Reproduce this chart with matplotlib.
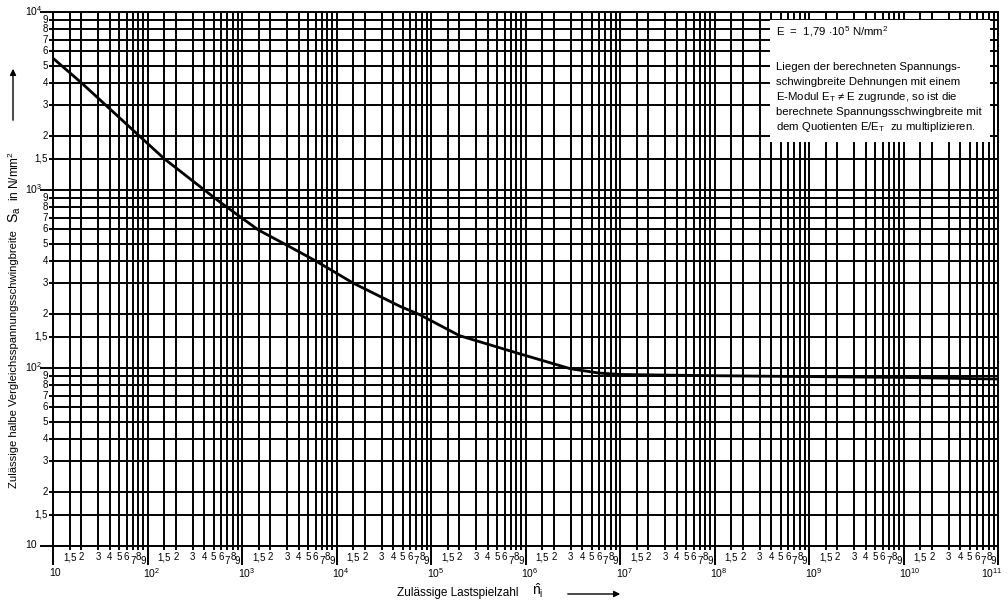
import numpy as np
import matplotlib.pyplot as plt
from matplotlib import font_manager
from matplotlib.ticker import LogLocator, NullFormatter
from matplotlib.patches import Rectangle, FancyArrowPatch

installed = {f.name for f in font_manager.fontManager.ttflist}
narrow = 'Liberation Sans Narrow' in installed
print('narrow font:', narrow)

plt.rcParams['font.family'] = ['Liberation Sans', 'DejaVu Sans']
plt.rcParams['mathtext.fontset'] = 'custom'
plt.rcParams['mathtext.rm'] = 'Liberation Sans'
plt.rcParams['mathtext.it'] = 'Liberation Sans:italic'
plt.rcParams['mathtext.default'] = 'regular'

# design curve
cycles = [10, 20, 50, 83, 150, 400, 585, 1000, 1500, 3000, 6000, 1e4, 1.5e4,
          4.7e4, 7.5e4, 2e5, 8.75e5, 3e6, 6e6, 1e7, 1e8, 1e9, 1e10, 1e11]
stress = [5500, 4000, 2560, 2000, 1500, 1000, 855, 695, 595, 489, 400, 341, 300,
          222, 200, 152, 120, 99, 93.7, 92, 90.5, 89.5, 88.5, 86.7]

minor_subs = [1.5, 2, 3, 4, 5, 6, 7, 8, 9]
minor_labels = ['1,5', '2', '3', '4', '5', '6', '7', '8', '9']
x_decades = list(range(1, 12))
y_decades = list(range(1, 5))

box_title = 'E  =  1,79 $\\cdot$10$^5$ N/mm$^2$'
box_lines = ['Liegen der berechneten Spannungs-',
             'schwingbreite Dehnungen mit einem',
             'E-Modul $E_T$ \u2260 E zugrunde, so ist die',
             'berechnete Spannungsschwingbreite mit',
             'dem Quotienten E/$E_T$  zu multiplizieren.']

if narrow:
    box_font = dict(family=['Liberation Sans Narrow', 'Liberation Sans', 'DejaVu Sans'], fontsize=9.4)
    tick_font = dict(family=['Liberation Sans Narrow', 'Liberation Sans', 'DejaVu Sans'], fontsize=8)
else:
    box_font = dict(fontsize=8.2)
    tick_font = dict(fontsize=7)

W, H = 1008, 607
fig = plt.figure(figsize=(W / 100, H / 100), dpi=100)
ax = fig.add_axes([53 / W, 1 - 546 / H, (998 - 53) / W, (546 - 12) / H])
ax.set_xscale('log')
ax.set_yscale('log')
ax.set_xlim(10, 1e11)
ax.set_ylim(10, 1e4)

for axis in (ax.xaxis, ax.yaxis):
    axis.set_major_locator(LogLocator(base=10, numticks=100))
    axis.set_minor_locator(LogLocator(base=10, subs=minor_subs, numticks=100))
    axis.set_minor_formatter(NullFormatter())

ax.grid(which='both', color='black', lw=1.4)
ax.tick_params(which='both', labelbottom=False, labelleft=False,
               direction='out', color='black', width=1.4)
ax.tick_params(axis='x', which='major', length=14)
ax.tick_params(axis='y', which='major', length=9.5)
ax.tick_params(which='minor', length=3)
for s in ax.spines.values():
    s.set_linewidth(1.4)

ax.plot(cycles, stress, color='black', lw=2, zorder=4)

# x tick labels
for d in x_decades:
    lab = '10' if d == 1 else '10$^{%d}$' % d
    if d == 11:
        ax.annotate(lab, xy=(10 ** d, 0), xycoords=('data', 'axes fraction'),
                    xytext=(3.5, -19.5), textcoords='offset points',
                    ha='right', va='center', fontsize=7.5)
    else:
        ax.annotate(lab, xy=(10 ** d, 0), xycoords=('data', 'axes fraction'),
                    xytext=(-3, -19.5), textcoords='offset points',
                    ha='left', va='center', fontsize=7.5)
        for s, lab in zip(minor_subs, minor_labels):
            dy = -11 if lab in ('7', '9') else -8
            ax.annotate(lab, xy=(s * 10 ** d, 0), xycoords=('data', 'axes fraction'),
                        xytext=(0, dy), textcoords='offset points',
                        ha='center', va='center', **tick_font)

# y tick labels
for d in y_decades:
    lab = '10' if d == 1 else '10$^{%d}$' % d
    ax.annotate(lab, xy=(0, 10 ** d), xycoords=('axes fraction', 'data'),
                xytext=(-20, 1), textcoords='offset points',
                ha='left', va='center', fontsize=7.5)
    if d < 4:
        for s, lab in zip(minor_subs, minor_labels):
            ax.annotate(lab, xy=(0, s * 10 ** d), xycoords=('axes fraction', 'data'),
                        xytext=(-3.6, 0), textcoords='offset points',
                        ha='right', va='center', **tick_font)

# note box
def fx(px):
    return px / W

def fy(py):
    return 1 - py / H

ax.add_patch(Rectangle((fx(770), fy(142)), 220 / W, 122 / H, transform=fig.transFigure,
                       facecolor='white', edgecolor='none', zorder=5, clip_on=False))
fig.text(fx(776), fy(32), box_title, va='center', zorder=6, **box_font)
for i, line in enumerate(box_lines):
    fig.text(fx(776), fy(67 + i * 15), line, va='center', zorder=6, **box_font)

# axis titles
fig.text(fx(14), fy(488), 'Zulässige halbe Vergleichsspannungsschwingbreite',
         rotation=90, ha='center', va='bottom', fontsize=8.1)
fig.text(fx(15), fy(215), '$S_a$', rotation=90, ha='center', va='center', fontsize=10)
fig.text(fx(14), fy(176), 'in N/mm$^2$', rotation=90, ha='center', va='center', fontsize=8.5)
fig.text(fx(397), fy(593), 'Zulässige Lastspielzahl', ha='left', va='center', fontsize=8.5)
fig.text(fx(532), fy(591), '$\\hat{n}_i$', ha='left', va='center', fontsize=10)

arrow = dict(arrowstyle='-|>', color='black', lw=1, mutation_scale=9)
fig.patches.append(FancyArrowPatch((fx(13), fy(123)), (fx(13), fy(66)),
                                   transform=fig.transFigure, **arrow))
fig.patches.append(FancyArrowPatch((fx(565), fy(594)), (fx(623), fy(594)),
                                   transform=fig.transFigure, **arrow))

fig.savefig('out.png', dpi=100)
